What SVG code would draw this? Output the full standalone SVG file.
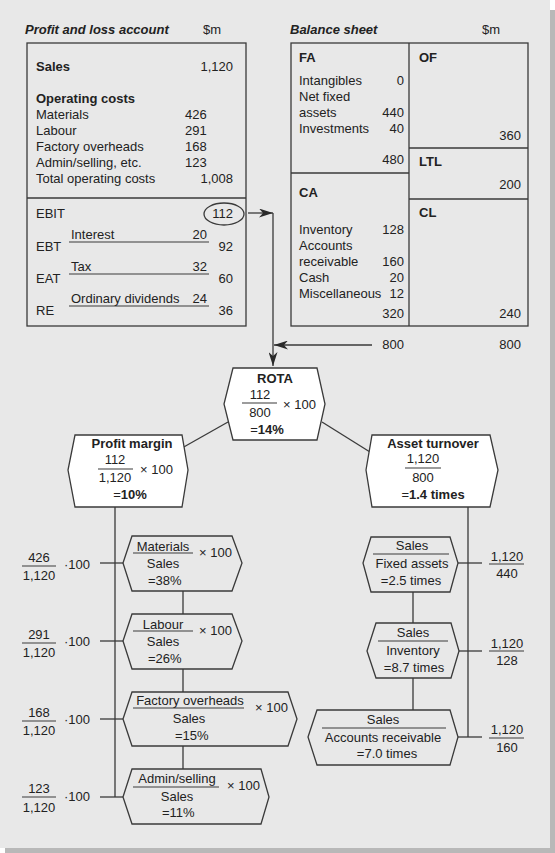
<svg xmlns="http://www.w3.org/2000/svg" width="555" height="853" viewBox="0 0 555 853">
<defs>
<style>
text{font-family:"Liberation Sans",Arial,sans-serif;font-size:13px;fill:#222}
.b{font-weight:bold}
.bi{font-weight:bold;font-style:italic}
.m{text-anchor:middle}
.e{text-anchor:end}
.ln{stroke:#3a3a3a;stroke-width:1.3;fill:none}
.hw{fill:#fff;stroke:#3a3a3a;stroke-width:1.3}
.hg{fill:#e8e8e8;stroke:#3a3a3a;stroke-width:1.3}
.fr{stroke:#3a3a3a;stroke-width:1.2}
</style>
<marker id="ah" viewBox="0 0 14 9" refX="14" refY="4.5" markerWidth="14" markerHeight="9" markerUnits="userSpaceOnUse" orient="auto">
<path d="M0,0 L14,4.5 L0,9 L4,4.5 z" fill="#2a2a2a"/>
</marker>
</defs>
<rect x="0" y="0" width="555" height="853" fill="#fff"/>
<rect x="5" y="10" width="550" height="843" fill="#b8b8b8"/>
<rect x="0" y="0" width="550" height="848" fill="#e8e8e8"/>

<g id="pl">
<text x="25" y="34" class="bi">Profit and loss account</text>
<text x="203" y="34">$m</text>
<rect x="27" y="43" width="219" height="283" class="ln"/>
<line x1="27" y1="198" x2="246" y2="198" class="ln"/>
<text x="36" y="71" class="b">Sales</text>
<text x="233" y="71" class="e">1,120</text>
<text x="36" y="103" class="b">Operating costs</text>
<text x="36" y="119">Materials</text><text x="185" y="119">426</text>
<text x="36" y="135">Labour</text><text x="185" y="135">291</text>
<text x="36" y="151">Factory overheads</text><text x="185" y="151">168</text>
<text x="36" y="167">Admin/selling, etc.</text><text x="185" y="167">123</text>
<text x="36" y="183">Total operating costs</text><text x="233" y="183" class="e">1,008</text>
<text x="36" y="218">EBIT</text>
<ellipse cx="224" cy="214" rx="20" ry="11" class="ln"/>
<text x="233" y="218" class="e">112</text>
<text x="71" y="239">Interest</text><text x="207" y="239" class="e">20</text>
<line x1="69" y1="242" x2="209" y2="242" class="fr"/>
<text x="36" y="251">EBT</text><text x="233" y="251" class="e">92</text>
<text x="71" y="271">Tax</text><text x="207" y="271" class="e">32</text>
<line x1="69" y1="274" x2="209" y2="274" class="fr"/>
<text x="36" y="283">EAT</text><text x="233" y="283" class="e">60</text>
<text x="71" y="303">Ordinary dividends</text><text x="207" y="303" class="e">24</text>
<line x1="69" y1="306" x2="209" y2="306" class="fr"/>
<text x="36" y="315">RE</text><text x="233" y="315" class="e">36</text>
</g>

<g id="bs">
<text x="290" y="34" class="bi">Balance sheet</text>
<text x="482" y="34">$m</text>
<rect x="291" y="43" width="237" height="283" class="ln"/>
<line x1="409" y1="43" x2="409" y2="326" class="ln"/>
<line x1="291" y1="173" x2="409" y2="173" class="ln"/>
<line x1="409" y1="148" x2="528" y2="148" class="ln"/>
<line x1="409" y1="199" x2="528" y2="199" class="ln"/>
<text x="299" y="62" class="b">FA</text>
<text x="299" y="85">Intangibles</text><text x="404" y="85" class="e">0</text>
<text x="299" y="101">Net fixed</text>
<text x="299" y="117">assets</text><text x="404" y="117" class="e">440</text>
<text x="299" y="133">Investments</text><text x="404" y="133" class="e">40</text>
<text x="404" y="164" class="e">480</text>
<text x="419" y="62" class="b">OF</text>
<text x="521" y="140" class="e">360</text>
<text x="419" y="166" class="b">LTL</text>
<text x="521" y="189" class="e">200</text>
<text x="299" y="197" class="b">CA</text>
<text x="419" y="217" class="b">CL</text>
<text x="299" y="234">Inventory</text><text x="404" y="234" class="e">128</text>
<text x="299" y="250">Accounts</text>
<text x="299" y="266">receivable</text><text x="404" y="266" class="e">160</text>
<text x="299" y="282">Cash</text><text x="404" y="282" class="e">20</text>
<text x="299" y="298">Miscellaneous</text><text x="404" y="298" class="e">12</text>
<text x="404" y="318" class="e">320</text>
<text x="521" y="318" class="e">240</text>
<text x="404" y="349" class="e">800</text>
<text x="521" y="349" class="e">800</text>
</g>

<g id="connectors">
<line x1="248" y1="213" x2="273" y2="213" class="ln" marker-end="url(#ah)"/>
<line x1="273" y1="213" x2="273" y2="366" class="ln" marker-end="url(#ah)"/>
<line x1="372" y1="345" x2="274" y2="345" class="ln" marker-end="url(#ah)"/>
<line x1="228" y1="422" x2="182" y2="448" class="ln"/>
<line x1="322" y1="422" x2="370" y2="452" class="ln"/>
<line x1="115" y1="507" x2="115" y2="797" class="ln"/>
<line x1="100" y1="563" x2="123" y2="563" class="ln"/>
<line x1="100" y1="641" x2="123" y2="641" class="ln"/>
<line x1="100" y1="719" x2="123" y2="719" class="ln"/>
<line x1="100" y1="797" x2="123" y2="797" class="ln"/>
<line x1="183" y1="591" x2="183" y2="614" class="ln"/>
<line x1="183" y1="669" x2="183" y2="692" class="ln"/>
<line x1="183" y1="746" x2="183" y2="769" class="ln"/>
<line x1="468" y1="507" x2="468" y2="737" class="ln"/>
<line x1="458" y1="563" x2="482" y2="563" class="ln"/>
<line x1="459" y1="651" x2="482" y2="651" class="ln"/>
<line x1="458" y1="737" x2="482" y2="737" class="ln"/>
<line x1="413" y1="592" x2="413" y2="623" class="ln"/>
<line x1="413" y1="678" x2="413" y2="710" class="ln"/>
</g>

<g id="rota">
<polygon points="233,368 317,368 325,404 317,440 233,440 224,404" class="hw"/>
<text x="275" y="383" class="b m">ROTA</text>
<text x="260" y="399" class="m">112</text>
<line x1="242" y1="403" x2="277" y2="403" class="fr"/>
<text x="260" y="417" class="m">800</text>
<text x="283" y="409">× 100</text>
<text x="267" y="434" class="m">=<tspan class="b">14%</tspan></text>
</g>

<g id="profit-margin">
<polygon points="75,435 182,435 188,470 182,507 75,507 68,470" class="hw"/>
<text x="132" y="448" class="b m">Profit margin</text>
<text x="115" y="464" class="m">112</text>
<line x1="98" y1="469" x2="133" y2="469" class="fr"/>
<text x="115" y="482" class="m">1,120</text>
<text x="140" y="474">× 100</text>
<text x="130" y="499" class="m">=<tspan class="b">10%</tspan></text>
</g>

<g id="asset-turnover">
<polygon points="372,435 490,435 498,470 490,507 372,507 366,470" class="hw"/>
<text x="433" y="448" class="b m">Asset turnover</text>
<text x="423" y="463" class="m">1,120</text>
<line x1="405" y1="468" x2="441" y2="468" class="fr"/>
<text x="423" y="482" class="m">800</text>
<text x="433" y="499" class="m">=<tspan class="b">1.4 times</tspan></text>
</g>

<g id="materials">
<polygon points="132,536 232,536 242,563 232,591 132,591 123,563" class="hg"/>
<text x="163" y="551" class="m">Materials</text>
<line x1="133" y1="553" x2="193" y2="553" class="fr"/>
<text x="163" y="568" class="m">Sales</text>
<text x="199" y="557">× 100</text>
<text x="148" y="585">=38%</text>
<text x="39" y="562" class="m">426</text>
<line x1="22" y1="566" x2="56" y2="566" class="fr"/>
<text x="39" y="580" class="m">1,120</text>
<text x="64" y="569">·100</text>
</g>

<g id="labour">
<polygon points="132,614 232,614 242,641 232,669 132,669 123,641" class="hg"/>
<text x="163" y="629" class="m">Labour</text>
<line x1="133" y1="631" x2="193" y2="631" class="fr"/>
<text x="163" y="646" class="m">Sales</text>
<text x="199" y="635">× 100</text>
<text x="148" y="663">=26%</text>
<text x="39" y="639" class="m">291</text>
<line x1="22" y1="643" x2="56" y2="643" class="fr"/>
<text x="39" y="657" class="m">1,120</text>
<text x="64" y="646">·100</text>
</g>

<g id="factory-overheads">
<polygon points="132,692 288,692 297,719 288,746 132,746 123,719" class="hg"/>
<text x="190" y="705" class="m">Factory overheads</text>
<line x1="133" y1="708" x2="244" y2="708" class="fr"/>
<text x="189" y="723" class="m">Sales</text>
<text x="255" y="712">× 100</text>
<text x="175" y="740">=15%</text>
<text x="39" y="717" class="m">168</text>
<line x1="22" y1="721" x2="56" y2="721" class="fr"/>
<text x="39" y="735" class="m">1,120</text>
<text x="64" y="724">·100</text>
</g>

<g id="admin-selling">
<polygon points="132,769 261,769 269,797 261,824 132,824 123,797" class="hg"/>
<text x="177" y="783" class="m">Admin/selling</text>
<line x1="133" y1="787" x2="219" y2="787" class="fr"/>
<text x="177" y="801" class="m">Sales</text>
<text x="227" y="790">× 100</text>
<text x="162" y="817">=11%</text>
<text x="39" y="793" class="m">123</text>
<line x1="22" y1="797" x2="56" y2="797" class="fr"/>
<text x="39" y="812" class="m">1,120</text>
<text x="64" y="801">·100</text>
</g>

<g id="fixed-assets">
<polygon points="371,537 450,537 458,563 450,592 371,592 363,563" class="hg"/>
<text x="412" y="550" class="m">Sales</text>
<line x1="373" y1="554" x2="449" y2="554" class="fr"/>
<text x="412" y="568" class="m">Fixed assets</text>
<text x="411" y="585" class="m">=2.5 times</text>
<text x="507" y="561" class="m">1,120</text>
<line x1="489" y1="564" x2="524" y2="564" class="fr"/>
<text x="507" y="578" class="m">440</text>
</g>

<g id="inventory">
<polygon points="376,623 451,623 459,651 451,678 376,678 367,651" class="hg"/>
<text x="413" y="637" class="m">Sales</text>
<line x1="378" y1="641" x2="448" y2="641" class="fr"/>
<text x="413" y="655" class="m">Inventory</text>
<text x="414" y="672" class="m">=8.7 times</text>
<text x="507" y="648" class="m">1,120</text>
<line x1="489" y1="651" x2="524" y2="651" class="fr"/>
<text x="507" y="665" class="m">128</text>
</g>

<g id="accounts-receivable">
<polygon points="317,710 450,710 458,737 450,765 317,765 308,737" class="hg"/>
<text x="383" y="724" class="m">Sales</text>
<line x1="322" y1="728" x2="446" y2="728" class="fr"/>
<text x="383" y="742" class="m">Accounts receivable</text>
<text x="387" y="758" class="m">=7.0 times</text>
<text x="507" y="734" class="m">1,120</text>
<line x1="489" y1="738" x2="524" y2="738" class="fr"/>
<text x="507" y="752" class="m">160</text>
</g>
</svg>
